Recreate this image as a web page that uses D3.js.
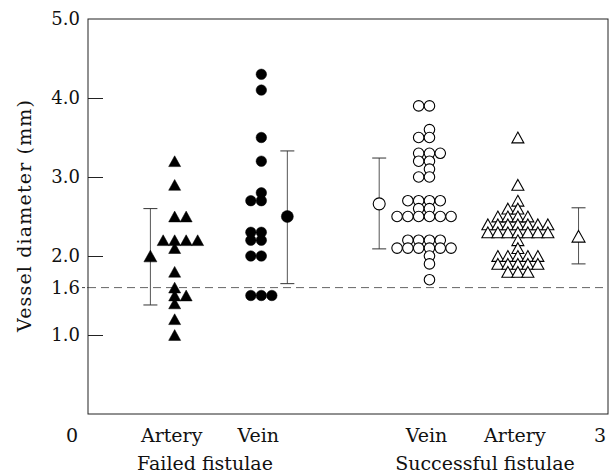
<!DOCTYPE html>
<html>
<head>
<meta charset="utf-8">
<script src="https://cdn.jsdelivr.net/npm/d3@7"></script>
<style>
  body { margin: 0; background: #fff; }
  svg text { font-family: "DejaVu Serif", "Liberation Serif", serif; fill: #111; }
</style>
</head>
<body>
<div id="chart"></div>
<script>
// vessel diameters (mm)
const failedArtery = [3.2, 2.9, 2.5, 2.5, 2.2, 2.2, 2.2, 2.2, 2.1, 1.8, 1.6, 1.5, 1.5, 1.4, 1.2, 1.0]
const failedVein = [4.3, 4.1, 3.5, 3.2, 2.8, 2.7, 2.7, 2.3, 2.3, 2.2, 2.2, 2.0, 2.0, 1.5, 1.5, 1.5]
const successVein = [3.9, 3.9, 3.6, 3.5, 3.5, 3.3, 3.3, 3.3, 3.2, 3.2, 3.1, 3.0, 3.0,
    2.7, 2.7, 2.7, 2.7, 2.6, 2.6, 2.5, 2.5, 2.5, 2.5, 2.5, 2.5,
    2.2, 2.2, 2.2, 2.2, 2.1, 2.1, 2.1, 2.1, 2.1, 2.1, 2.0, 1.9, 1.7]
const successArtery = [3.5, 2.9, 2.7, 2.6, 2.6, 2.5, 2.5, 2.5, 2.5,
    2.4, 2.4, 2.4, 2.4, 2.4, 2.4, 2.4, 2.3, 2.3, 2.3, 2.3, 2.3, 2.3, 2.3,
    2.2, 2.1, 2.0, 2.0, 2.0, 2.0, 2.0, 1.9, 1.9, 1.9, 1.9, 1.9, 1.8, 1.8, 1.8]

// mean and range bars: [mean, low, high]
const failedArteryBar = [2.0, 1.38, 2.6]
const failedVeinBar = [2.5, 1.65, 3.33]
const successVeinBar = [2.66, 2.09, 3.24]
const successArteryBar = [2.25, 1.9, 2.61]

const categories = ["Artery", "Vein", "Vein", "Artery"]
const groupLabels = ["Failed fistulae", "Successful fistulae"]
const yTicks = [1.0, 1.6, 2.0, 3.0, 4.0, 5.0]
const threshold = 1.6

const width = 613, height = 476
const margin = { top: 19, right: 5, bottom: 62, left: 88 }

const svg = d3.select("#chart").append("svg")
    .attr("width", width)
    .attr("height", height)

const x = d3.scaleLinear().domain([0, 3]).range([margin.left, width - margin.right])
const y = d3.scaleLinear().domain([0, 5]).range([height - margin.bottom, margin.top])

const triangle = (w) => {
    const h = w * 0.9
    return `M0,${-h / 2}L${w / 2},${h / 2}L${-w / 2},${h / 2}Z`
}

const groups = [
    { values: failedArtery, bar: failedArteryBar, pos: 0.5, barPos: 0.36, shape: "tri", fill: "#000", step: 11.5, bias: "right" },
    { values: failedVein, bar: failedVeinBar, pos: 1.0, barPos: 1.15, shape: "circle", fill: "#000", step: 10.5, bias: "left" },
    { values: successVein, bar: successVeinBar, pos: 1.97, barPos: 1.68, shape: "circle", fill: "#fff", step: 10.8, bias: "left" },
    { values: successArtery, bar: successArteryBar, pos: 2.48, barPos: 2.83, shape: "tri", fill: "#fff", step: 10, bias: "left" }
]

// dashed threshold line
svg.append("line")
    .attr("x1", x(0)).attr("x2", x(3))
    .attr("y1", y(threshold)).attr("y2", y(threshold))
    .attr("stroke", "#666")
    .attr("stroke-dasharray", "8,5")

// frame
svg.append("rect")
    .attr("x", x(0)).attr("y", y(5))
    .attr("width", x(3) - x(0))
    .attr("height", y(0) - y(5))
    .attr("fill", "none")
    .attr("stroke", "#222")

// y axis ticks pointing inward
const yAxis = svg.append("g")
    .attr("transform", `translate(${x(0)},0)`)
    .call(d3.axisRight(y).tickValues(yTicks).tickSize(15).tickFormat(""))
yAxis.select(".domain").remove()
yAxis.selectAll(".tick line").attr("stroke", "#222")
    .filter(d => d === threshold || d === 5).remove()

svg.append("g").selectAll("text")
    .data(yTicks)
    .join("text")
    .attr("x", x(0) - 8)
    .attr("y", d => y(d))
    .attr("dy", "0.36em")
    .attr("text-anchor", "end")
    .style("font-size", "18px")
    .text(d => d.toFixed(1))

// dash between the 1.6 label and the frame
svg.append("line")
    .attr("x1", x(0) - 6).attr("x2", x(0))
    .attr("y1", y(threshold)).attr("y2", y(threshold))
    .attr("stroke", "#444").attr("stroke-dasharray", "3,2")

svg.append("text")
    .attr("transform", `translate(31,216) rotate(-90)`)
    .attr("text-anchor", "middle")
    .attr("textLength", 232)
    .attr("lengthAdjust", "spacing")
    .style("font-size", "19px")
    .text("Vessel diameter (mm)")

// x labels
const xLab = svg.append("g").style("font-size", "19px")
xLab.append("text").attr("x", x(0) - 10).attr("y", 442).attr("text-anchor", "end").text("0")
xLab.append("text").attr("x", x(3) - 2).attr("y", 442).attr("text-anchor", "end").text("3")
xLab.selectAll(".cat")
    .data(groups)
    .join("text")
    .attr("class", "cat")
    .attr("x", (d) => x(d.pos) - 3)
    .attr("y", 442)
    .attr("text-anchor", "middle")
    .text((d, i) => categories[i])
xLab.selectAll(".grp")
    .data(groupLabels)
    .join("text")
    .attr("class", "grp")
    .attr("x", (d, i) => i === 0 ? x(0.675) : x(2.29))
    .attr("y", 470)
    .attr("text-anchor", "middle")
    .text(d => d)

function drawMarker(sel, g, size) {
    if (g.shape === "tri") {
        sel.append("path").attr("d", triangle(size))
    } else {
        sel.append("circle").attr("r", size / 2)
    }
    sel.selectAll("path,circle")
        .attr("fill", g.fill)
        .attr("stroke", "#000")
        .attr("stroke-width", g.fill === "#000" ? 0.5 : 1.1)
}

groups.forEach(g => {
    // spread equal values side by side
    const byValue = d3.group(g.values, v => v.toFixed(2))
    const pts = []
    byValue.forEach((vals, key) => {
        const n = vals.length
        const start = g.bias === "left" ? -Math.floor(n / 2) : -Math.floor((n - 1) / 2)
        vals.forEach((v, k) => pts.push({ v: +key, col: start + k }))
    })

    const size = g.shape === "tri" ? 12 : 10.5
    svg.append("g").selectAll("g")
        .data(pts)
        .join("g")
        .attr("transform", d => `translate(${x(g.pos) + d.col * g.step},${y(d.v)})`)
        .each(function () { drawMarker(d3.select(this), g, size) })

    // mean with range bar
    const [m, lo, hi] = g.bar
    const bx = x(g.barPos)
    const bar = svg.append("g").attr("stroke", "#555")
    bar.append("line").attr("x1", bx).attr("x2", bx).attr("y1", y(lo)).attr("y2", y(hi))
    bar.selectAll(".cap")
        .data([lo, hi])
        .join("line")
        .attr("x1", bx - 7).attr("x2", bx + 7)
        .attr("y1", d => y(d)).attr("y2", d => y(d))
        .attr("stroke", "#333")
    svg.append("g")
        .attr("transform", `translate(${bx},${y(m)})`)
        .call(sel => drawMarker(sel, g, g.shape === "tri" ? 13 : 12))
})
</script>
</body>
</html>
